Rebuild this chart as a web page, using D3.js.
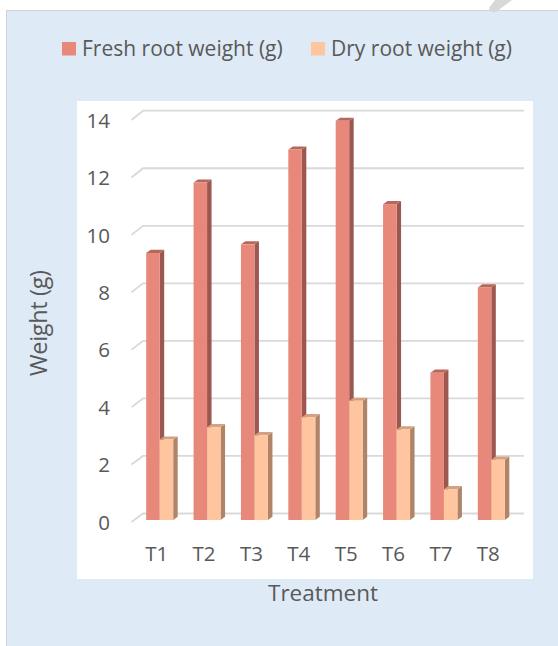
<!DOCTYPE html>
<html>
<head>
<meta charset="utf-8">
<script src="https://cdn.jsdelivr.net/npm/d3@7"></script>
<style>
  html, body { margin: 0; padding: 0; background: #ffffff; }
  svg { display: block; }
  text { font-family: "Open Sans", "Noto Sans", sans-serif; fill: #595959; }
</style>
</head>
<body>
<svg id="chart" width="558" height="646"></svg>
<script>
// ---- data ----
const categories = ["T1", "T2", "T3", "T4", "T5", "T6", "T7", "T8"];
const seriesNames = ["Fresh root weight (g)", "Dry root weight (g)"];
const freshWeight = [9.3, 11.75, 9.6, 12.9, 13.9, 11.0, 5.13, 8.1];
const dryWeight = [2.8, 3.23, 2.95, 3.58, 4.15, 3.15, 1.07, 2.1];
const yTicks = [0, 2, 4, 6, 8, 10, 12, 14];
const xTitle = "Treatment";
const yTitle = "Weight (g)";

// ---- styles ----
const colors = {
  fresh: { front: "#E8887A", side: "#9C5850", top: "#B6685D" },
  dry:   { front: "#FFC59F", side: "#B08468", top: "#D6A181" }
};

const svg = d3.select("#chart");

// page panel
svg.append("rect").attr("x", 6.5).attr("y", 10.5).attr("width", 560).attr("height", 640)
  .attr("fill", "#DEEAF6").attr("stroke", "#cfd3d8").attr("stroke-width", 1);
// decorative grey mark top right
svg.append("path").attr("d", "M489,8 Q490,13 496,12 L512,0 L495,0 Z").attr("fill", "#d8d8d8");

// chart area (white)
svg.append("rect").attr("x", 77).attr("y", 101).attr("width", 456).attr("height", 478).attr("fill", "#ffffff");

// ---- scales: three projections of the same value axis (front labels, bar faces, back wall) ----
const yFront = d3.scaleLinear().domain([0, 14]).range([522, 120]);
const yBar = d3.scaleLinear().domain([0, 14]).range([520, 118]);
const yBack = d3.scaleLinear().domain([0, 14]).range([513.5, 110.7]);

const x = d3.scaleBand().domain(categories).range([136, 515]).paddingInner(0.43).paddingOuter(0.215);
const xSub = d3.scaleBand().domain(["fresh", "dry"]).range([0, x.bandwidth()]);

// gridlines with perspective kink
const gx0 = 131.5, gx1 = 143, gx2 = 524;
svg.append("g").selectAll("path").data(yTicks).join("path")
  .attr("d", v => `M${gx0},${yFront(v)} L${gx1},${yBack(v)} L${gx2},${yBack(v)}`)
  .attr("fill", "none").attr("stroke", "#d9d9d9").attr("stroke-width", 1.8);

// y axis labels
const yAxis = d3.axisLeft(yFront).tickValues(yTicks).tickSize(0).tickPadding(0).tickFormat(d3.format("d"));
const yg = svg.append("g").attr("transform", "translate(110,0)").call(yAxis);
yg.select(".domain").remove();
yg.selectAll("text").attr("font-size", 20.5).attr("fill", "#595959")
  .style("font-family", '"Open Sans", sans-serif').attr("dy", "0.35em");

// x axis labels
const xAxis = d3.axisBottom(x).tickSize(0).tickPadding(0);
const xg = svg.append("g").attr("transform", "translate(-3,543)").call(xAxis);
xg.select(".domain").remove();
xg.selectAll("text").attr("font-size", 20.5).attr("fill", "#595959")
  .style("font-family", '"Open Sans", sans-serif').attr("dy", "0.9em");

// ---- 3D bars ----
const dx = 4.5, dy = 3.2;
function drawSeries(key, values) {
  const g = svg.append("g");
  const c = colors[key];
  const data = categories.map((cat, i) => ({ cat, v: values[i] }));
  const w = xSub.bandwidth();
  // side
  g.selectAll("path.side").data(data).join("path").attr("class", "side")
    .attr("d", d => {
      const x0 = x(d.cat) + xSub(key) + w, yt = yBar(d.v), yb = yBar(0);
      return `M${x0},${yt} L${x0 + dx},${yt - dy} L${x0 + dx},${yb - dy} L${x0},${yb} Z`;
    }).attr("fill", c.side);
  // top
  g.selectAll("path.top").data(data).join("path").attr("class", "top")
    .attr("d", d => {
      const x0 = x(d.cat) + xSub(key), yt = yBar(d.v);
      return `M${x0},${yt} L${x0 + w},${yt} L${x0 + w + dx},${yt - dy} L${x0 + dx},${yt - dy} Z`;
    }).attr("fill", c.top);
  // front
  g.selectAll("rect").data(data).join("rect")
    .attr("x", d => x(d.cat) + xSub(key))
    .attr("y", d => yBar(d.v))
    .attr("width", w)
    .attr("height", d => yBar(0) - yBar(d.v))
    .attr("fill", c.front);
}
drawSeries("fresh", freshWeight);
drawSeries("dry", dryWeight);

// axis titles
svg.append("text").attr("x", 323).attr("y", 601).attr("text-anchor", "middle")
  .attr("font-size", 22.5).text(xTitle);
svg.append("text").attr("transform", "translate(47,323) rotate(-90)").attr("text-anchor", "middle")
  .attr("font-size", 23.5).attr("textLength", 106).attr("lengthAdjust", "spacing").text(yTitle);

// legend
const legendItems = [
  { name: seriesNames[0], color: colors.fresh.front, x: 62 },
  { name: seriesNames[1], color: colors.dry.front, x: 311 }
];
const lg = svg.append("g").selectAll("g").data(legendItems).join("g")
  .attr("transform", d => `translate(${d.x},42)`);
lg.append("rect").attr("width", 14).attr("height", 13.5).attr("fill", d => d.color);
lg.append("text").attr("x", 20).attr("y", 14).attr("font-size", 21).text(d => d.name);
</script>
</body>
</html>
